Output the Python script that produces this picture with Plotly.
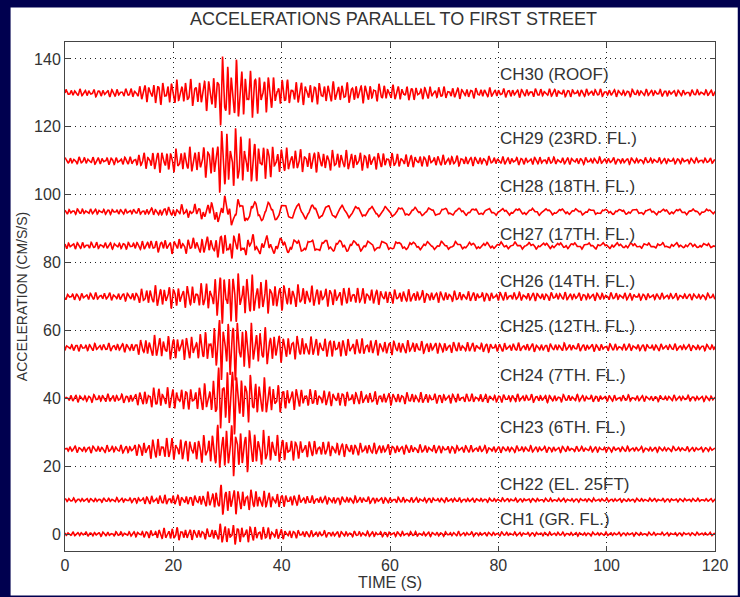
import numpy as np
import plotly.graph_objects as go

# ---- data ----
channels = ["CH30 (ROOF)", "CH29 (23RD. FL.)", "CH28 (18TH. FL.)", "CH27 (17TH. FL.)",
            "CH26 (14TH. FL.)", "CH25 (12TH. FL.)", "CH24 (7TH. FL.)", "CH23 (6TH. FL.)",
            "CH22 (EL. 25FT)", "CH1 (GR. FL.)"]
offsets = [130, 110, 95, 85, 70, 55, 40, 25, 10, 0]
label_y = [135.5, 116.5, 102.5, 88.3, 74.3, 61.2, 46.6, 31.4, 14.5, 4.3]

# envelope knot times (s) and amplitudes (cm/s/s) read per channel
env_t = [0, 12, 16, 20, 24, 27, 29, 31, 33, 36, 40, 45, 55, 65, 80, 120]
env_fast = [
    [1.0, 1.2, 3.2, 3.6, 4.0, 5.0, 10.5, 9.5, 8.0, 6.5, 4.0, 3.3, 2.8, 2.0, 1.3, 0.9],
    [1.0, 1.2, 3.0, 3.5, 3.8, 5.0, 10.0, 9.5, 7.5, 6.0, 3.8, 3.2, 2.7, 1.8, 1.2, 0.8],
    [0.8, 0.8, 1.0, 1.3, 1.5, 1.8, 2.2, 2.0, 1.2, 0.8, 0.6, 0.5, 0.4, 0.4, 0.4, 0.4],
    [1.0, 1.0, 1.6, 1.8, 2.0, 2.5, 3.5, 3.2, 2.2, 1.6, 1.0, 0.8, 0.6, 0.5, 0.5, 0.5],
    [1.0, 1.2, 3.0, 3.3, 3.3, 4.5, 8.0, 8.0, 6.5, 5.5, 3.8, 3.0, 2.5, 1.8, 1.3, 0.9],
    [1.0, 1.3, 3.3, 3.6, 3.6, 5.0, 10.0, 9.5, 7.5, 6.0, 4.0, 3.0, 2.5, 1.8, 1.3, 0.9],
    [1.0, 1.3, 3.0, 3.3, 3.3, 5.0, 10.5, 10.0, 7.5, 6.0, 3.8, 2.6, 2.0, 1.6, 1.2, 0.8],
    [0.9, 1.2, 3.0, 3.5, 3.3, 5.0, 7.5, 7.5, 6.5, 5.5, 3.8, 2.5, 1.8, 1.3, 1.0, 0.7],
    [0.6, 0.7, 1.3, 1.6, 1.5, 2.5, 4.5, 4.0, 3.2, 2.8, 2.0, 1.3, 1.0, 0.8, 0.6, 0.5],
    [0.6, 0.7, 1.2, 2.0, 1.5, 1.6, 3.0, 3.0, 2.5, 2.2, 1.5, 1.0, 0.8, 0.7, 0.6, 0.5],
]
env_slow = [
    [0] * 16,
    [0] * 16,
    [0, 0, 0.2, 0.5, 0.8, 1.5, 2.5, 2.8, 2.6, 2.5, 2.2, 1.8, 1.3, 1.0, 0.7, 0.5],
    [0, 0, 0.3, 0.5, 0.6, 0.8, 1.0, 1.2, 1.5, 1.7, 1.7, 1.5, 1.2, 0.9, 0.6, 0.4],
    [0] * 16, [0] * 16, [0] * 16, [0] * 16, [0] * 16, [0] * 16,
]
period_fast = [0.85, 0.85, 0.8, 0.85, 0.85, 0.85, 0.85, 0.85, 0.8, 0.8]
period_slow = 2.7

x_ticks = [0, 20, 40, 60, 80, 100, 120]
y_ticks = [0, 20, 40, 60, 80, 100, 120, 140]

# ---- figure ----
t = np.arange(0, 120.0001, 0.04)
fig = go.Figure()
for i, name in enumerate(channels):
    ef = np.interp(t, env_t, env_fast[i])
    es = np.interp(t, env_t, env_slow[i])
    p = period_fast[i]
    wave = (0.62 * np.sin(2 * np.pi * t / p + i)
            + 0.28 * np.sin(2 * np.pi * t / (p * 0.618) + 2.3 * i)
            + 0.22 * np.sin(2 * np.pi * t / (p * 1.414) + 0.7 * i))
    slow = np.sin(2 * np.pi * t / period_slow + i)
    y = offsets[i] + ef * wave + es * slow
    fig.add_trace(go.Scatter(x=t, y=y, mode="lines", name=name,
                             line=dict(color="#ff0000", width=1.6), hoverinfo="skip"))

font = "Liberation Sans, Arial, Helvetica, sans-serif"
txt = "#333333"
for name, ly in zip(channels, label_y):
    fig.add_annotation(x=80, y=ly, text=name, showarrow=False, xanchor="left", yanchor="middle",
                       font=dict(family=font, size=17, color=txt))

W, H = 740, 597
L, R, T, B = 65, 18, 42, 40
pw, ph = W - L - R, H - T - B
fig.add_shape(type="rect", xref="paper", yref="paper", layer="below",
              x0=(10 - L) / pw, x1=(W + 5 - L) / pw,
              y0=-(B + 5) / ph, y1=(H - B - 7) / ph,
              fillcolor="white", line=dict(width=0))

axis_common = dict(showline=True, linecolor="#444444", linewidth=1, mirror="allticks",
                   ticks="inside", ticklen=5, tickcolor="#444444",
                   showgrid=True, gridcolor="#222222", gridwidth=1, griddash="1px,4px",
                   zeroline=False, tickfont=dict(family=font, size=16, color=txt))
fig.update_xaxes(range=[0, 120], tickvals=x_ticks,
                 title=dict(text="TIME (S)", font=dict(family=font, size=16, color=txt), standoff=0),
                 **axis_common)
fig.update_yaxes(range=[-5, 145], tickvals=y_ticks,
                 title=dict(text="ACCELERATION (CM/S/S)", font=dict(family=font, size=14, color=txt), standoff=3),
                 **axis_common)

fig.update_layout(
    width=W, height=H, showlegend=False,
    margin=dict(l=L, r=R, t=T, b=B, pad=0),
    paper_bgcolor="#00004f", plot_bgcolor="white",
    title=dict(text="ACCELERATIONS PARALLEL TO FIRST STREET", x=(L + pw / 2) / W, xanchor="center",
               y=1 - 19 / H, yanchor="middle",
               font=dict(family=font, size=18, color=txt)),
)
fig.write_html("out.html")
